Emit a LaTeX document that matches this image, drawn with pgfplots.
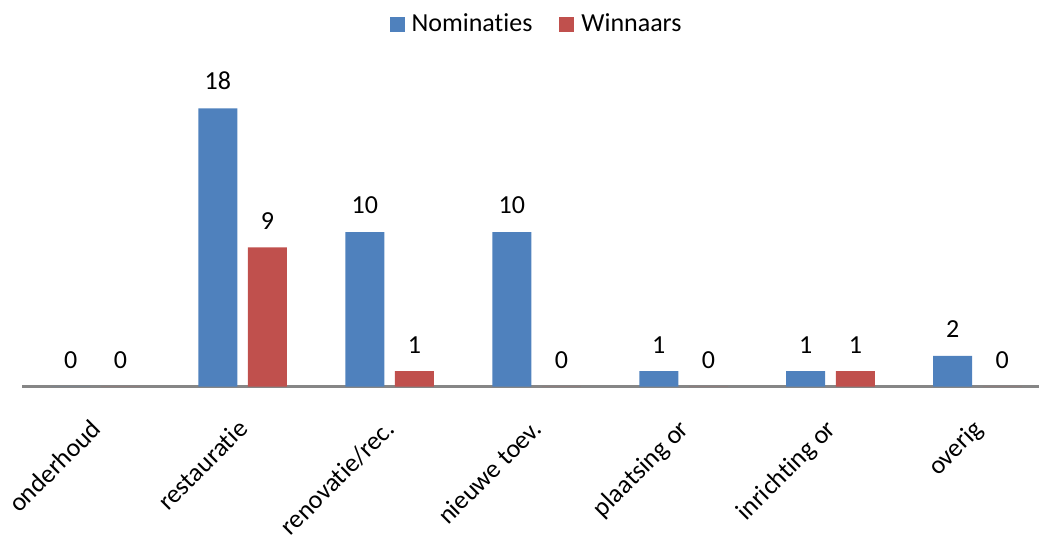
\documentclass[border=0pt]{standalone}
\usepackage{pgfplots}
\pgfplotsset{compat=1.18}
\usepackage{fontspec}
\setmainfont{Carlito}[RawFeature={-liga;-clig;-calt;-dlig}]
\definecolor{cblue}{HTML}{4F81BD}
\definecolor{cred}{HTML}{C0504D}
\definecolor{cgray}{HTML}{868686}
\begin{document}
\fontsize{26}{31}\selectfont
\begin{tikzpicture}
\begin{axis}[
  scale only axis,
  width=1029pt, height=340.3pt,
  xmin=-0.5, xmax=6.5, ymin=0, ymax=22,
  ybar=10.6pt, bar width=39pt,
  /pgf/number format/assume math mode=true,
  axis y line=none,
  axis x line*=bottom,
  x axis line style={draw=cgray, line width=2.5pt, -},
  xtick={0,1,2,3,4,5,6},
  xticklabels={onderhoud,restauratie,renovatie/rec.,nieuwe toev.,plaatsing or,inrichting or,overig},
  major tick length=0pt,
  xticklabel style={xshift=-6pt, yshift=-31pt, rotate=45, anchor=north east, inner sep=0pt},
  ytick=\empty,
  nodes near coords,
  nodes near coords style={anchor=south, inner sep=0pt, yshift=18pt, text=black},
  legend columns=2,
  legend style={at={(0.5,1.063)}, anchor=center, draw=none, fill=none,
    /tikz/every even column/.append style={column sep=25pt}},
  legend image code/.code={\fill[#1] (0pt,-7.5pt) rectangle (15pt,7.5pt); \path (20pt,0pt);},
  clip=false,
]
\addplot[fill=cblue, draw=none] coordinates {(0,0) (1,18) (2,10) (3,10) (4,1) (5,1) (6,2)};
\addplot[fill=cred, draw=none] coordinates {(0,0) (1,9) (2,1) (3,0) (4,0) (5,1) (6,0)};
\legend{Nominaties, Winnaars}
\end{axis}
\pgfresetboundingbox
\path (current axis.south west) ++(-22.1pt,-151.3pt) rectangle ++(1039pt,538pt);
\end{tikzpicture}
\end{document}
